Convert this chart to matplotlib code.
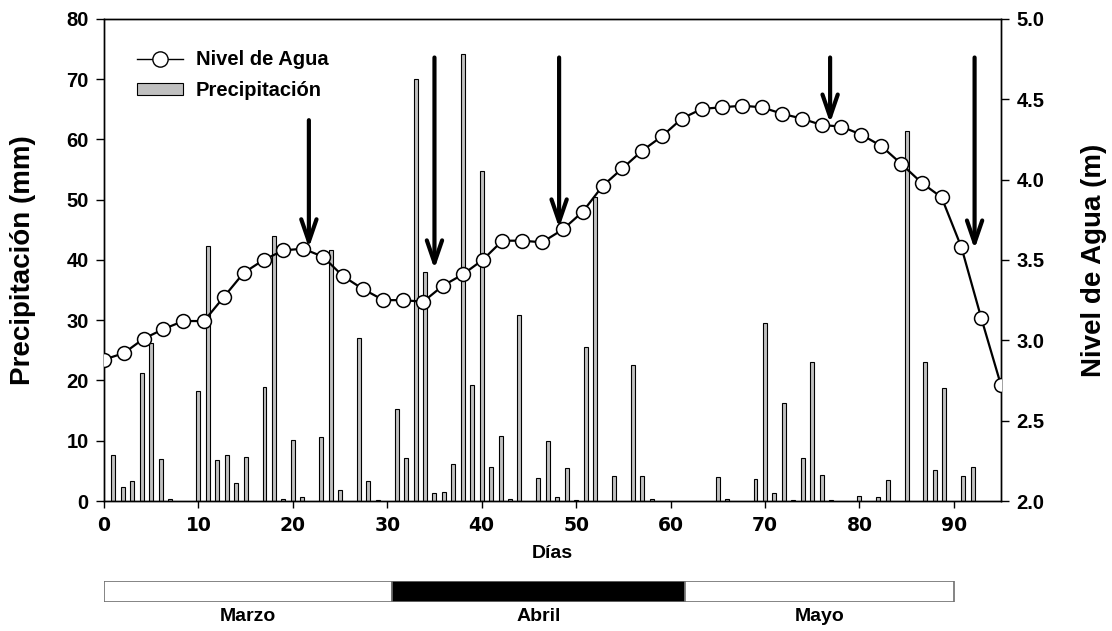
import matplotlib
matplotlib.use("Agg")
import matplotlib.pyplot as plt
from matplotlib.lines import Line2D
from matplotlib.patches import Patch

plt.rcParams["font.family"] = ["Liberation Sans", "DejaVu Sans"]
plt.rcParams["font.weight"] = "bold"

# daily rainfall (mm)
rain_days = [1, 2, 3, 4, 5, 6, 7, 10, 11, 12, 13, 14, 15, 17, 18, 19, 20, 21,
             23, 24, 25, 27, 28, 29, 31, 32, 33, 34, 35, 36, 37, 38, 39, 40,
             41, 42, 43, 44, 46, 47, 48, 49, 50, 51, 52, 54, 56, 57, 58, 65,
             66, 69, 70, 71, 72, 73, 74, 75, 76, 77, 80, 82, 83, 85, 87, 88,
             89, 91, 92]
rain_mm = [7.6, 2.3, 3.4, 21.2, 26.2, 6.9, 0.4, 18.2, 42.3, 6.8, 7.7, 3.0, 7.3,
           19.0, 43.9, 0.4, 10.2, 0.6, 10.7, 41.6, 1.8, 27.0, 3.4, 0.2, 15.3,
           7.2, 70.0, 38.0, 1.4, 1.5, 6.1, 74.1, 19.3, 54.7, 5.7, 10.8, 0.3,
           30.8, 3.9, 10.0, 0.7, 5.5, 0.2, 25.6, 50.5, 4.2, 22.5, 4.2, 0.3,
           4.0, 0.3, 3.7, 29.6, 1.3, 16.3, 0.2, 7.2, 23.1, 4.3, 0.2, 0.9, 0.6,
           3.5, 61.4, 23.1, 5.1, 18.7, 4.1, 5.6]

# water level (m)
level_days = [0.0, 2.1, 4.2, 6.3, 8.4, 10.6, 12.7, 14.8, 16.9, 19.0, 21.1,
              23.2, 25.3, 27.4, 29.6, 31.7, 33.8, 35.9, 38.0, 40.1, 42.2,
              44.3, 46.4, 48.6, 50.7, 52.8, 54.9, 57.0, 59.1, 61.2, 63.3,
              65.4, 67.6, 69.7, 71.8, 73.9, 76.0, 78.1, 80.2, 82.3, 84.4,
              86.6, 88.7, 90.8, 92.9, 95.0]
level_m = [2.88, 2.92, 3.01, 3.07, 3.12, 3.12, 3.27, 3.42, 3.50, 3.56, 3.57,
           3.52, 3.40, 3.32, 3.25, 3.25, 3.24, 3.34, 3.41, 3.50, 3.62, 3.62,
           3.61, 3.69, 3.80, 3.96, 4.07, 4.18, 4.27, 4.38, 4.44, 4.45, 4.46,
           4.45, 4.41, 4.38, 4.34, 4.33, 4.28, 4.21, 4.10, 3.98, 3.89, 3.58,
           3.14, 2.72]

# event arrows (day, start and end in mm)
arrow_days = [21.7, 35.0, 48.2, 76.9, 92.2]
arrow_top = [63.2, 73.6, 73.6, 73.6, 73.6]
arrow_tip = [42.0, 38.5, 45.3, 62.7, 41.8]

months = ["Marzo", "Abril", "Mayo"]
month_start = [0, 30.5, 61.5]
month_len = [30.5, 31.0, 28.5]
month_color = ["white", "black", "white"]

fig = plt.figure(figsize=(11.12, 6.31), dpi=100)
ax = fig.add_axes([0.0935, 0.206, 0.8067, 0.764])
ax2 = ax.twinx()

ax.bar(rain_days, rain_mm, width=0.42, color="#c0c0c0", edgecolor="black",
       linewidth=0.8, zorder=2)
ax2.plot(level_days, level_m, color="black", lw=1.6, marker="o", ms=10,
         mfc="white", mec="black", mew=1.1, zorder=3)

for d, t0, t1 in zip(arrow_days, arrow_top, arrow_tip):
    ax2.annotate("", xy=(d, t1), xytext=(d, t0),
                 xycoords=ax.transData, textcoords=ax.transData,
                 arrowprops=dict(arrowstyle="->,head_length=1.6,head_width=0.55",
                                 lw=3, color="black", shrinkA=0, shrinkB=0),
                 zorder=4)

ax.set_xlim(0, 95)
ax.set_ylim(0, 80)
ax2.set_ylim(2, 5)
ax.set_xticks(range(0, 91, 10))
ax.set_yticks(range(0, 81, 10))
ax2.set_yticks([2.0, 2.5, 3.0, 3.5, 4.0, 4.5, 5.0])
ax2.set_yticklabels([f"{v:.1f}" for v in ax2.get_yticks()])

for a in (ax, ax2):
    a.tick_params(direction="out", length=6, width=1, labelsize=14.5, pad=5)
    for s in a.spines.values():
        s.set_linewidth(1.0)
ax.tick_params(axis="x", length=5, pad=6)
for lab in ax.get_xticklabels():
    lab.set_family("DejaVu Sans")
    lab.set_fontsize(13.5)
    lab.set_fontweight("bold")

ax.set_ylabel("Precipitación (mm)", fontsize=20, fontweight="bold", labelpad=22)
ax2.set_ylabel("Nivel de Agua (m)", fontsize=20, fontweight="bold", labelpad=26)
ax.set_xlabel("Días", fontsize=14, fontweight="bold", labelpad=7)

handles = [Line2D([], [], color="black", lw=1, marker="o", ms=11, mfc="white",
                  mec="black"),
           Patch(facecolor="#c0c0c0", edgecolor="black", linewidth=0.8)]
ax2.legend(handles, ["Nivel de Agua", "Precipitación"], loc="upper left",
           bbox_to_anchor=(0.037, 0.935), frameon=False, borderpad=0,
           prop=dict(size=14.5, weight="bold"), handlelength=2.3,
           handleheight=0.5, handletextpad=0.6, labelspacing=0.6,
           borderaxespad=0)

# month strip under the x axis
mx = fig.add_axes([0.0935, 0.046, 0.8067, 0.033])
mx.barh([0.5] * 3, month_len, left=month_start, height=1.0, color=month_color,
        edgecolor="#707070", linewidth=1.2)
for m, s, w in zip(months, month_start, month_len):
    mx.text(s + w / 2, -0.7, m, ha="center", va="center", fontsize=14,
            fontweight="bold")
mx.set_xlim(0, 95)
mx.set_ylim(0, 1)
mx.axis("off")

fig.savefig("out.png", dpi=100)
